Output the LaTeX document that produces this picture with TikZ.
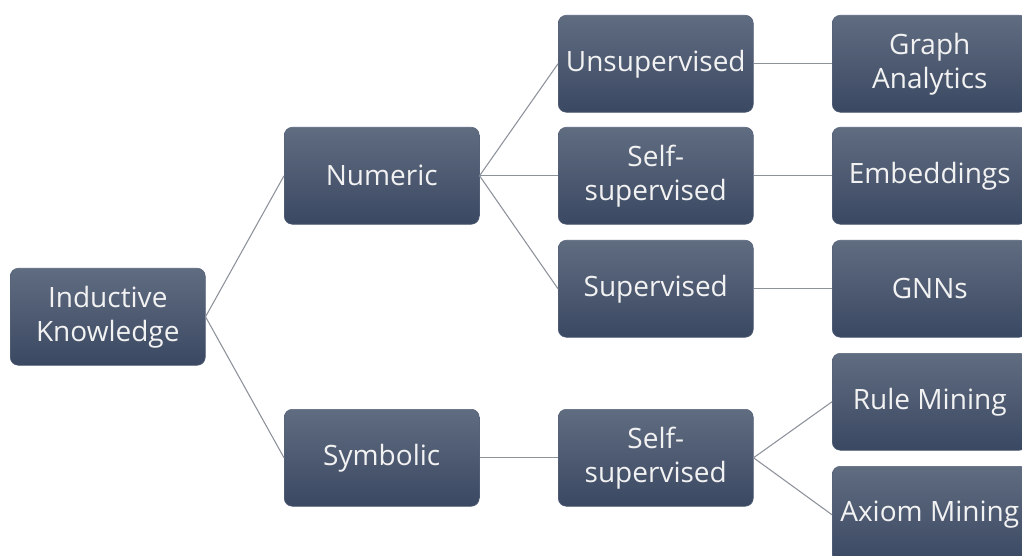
\documentclass[tikz,border=0pt]{standalone}
\usepackage{fontspec}
\setmainfont{Open Sans}
\begin{document}
\begin{tikzpicture}[x=0.75pt,y=-0.75pt,
  box/.style={rounded corners=6pt, minimum width=146.25pt, minimum height=72.75pt,
    inner sep=0pt, top color=boxtop, bottom color=boxbot, draw=boxedge, line width=0.4pt,
    text=boxtext, align=center, font=\fontsize{21}{25.5}\selectfont, anchor=north west},
  link/.style={draw=linkgray, line width=0.8pt}]
\definecolor{boxtop}{HTML}{606C80}
\definecolor{boxbot}{HTML}{3A4862}
\definecolor{boxedge}{HTML}{56627A}
\definecolor{boxtext}{HTML}{F2F2F2}
\definecolor{linkgray}{HTML}{8C919A}
\useasboundingbox (0,0) rectangle (1022,556);
\clip (0,0) rectangle (1022,556);
% root
\node[box] (ind) at (10,268) {Inductive\\Knowledge};
% second level
\node[box] (num) at (284,127) {Numeric};
\node[box] (sym) at (284,409) {Symbolic};
% third level
\node[box] (uns) at (558,15) {Unsupervised};
\node[box] (ssn) at (558,127) {Self-\\supervised};
\node[box] (sup) at (558,240) {Supervised};
\node[box] (sss) at (558,409) {Self-\\supervised};
% leaves
\node[box] (gra) at (832,15) {Graph\\Analytics};
\node[box] (emb) at (832,127) {Embeddings};
\node[box] (gnn) at (832,240) {GNNs};
\node[box] (rul) at (832,353) {Rule Mining};
\node[box] (axi) at (832,466) {Axiom Mining};
% connectors
\draw[link] (ind.east) -- (num.west);
\draw[link] (ind.east) -- (sym.west);
\draw[link] (num.east) -- (uns.west);
\draw[link] (num.east) -- (ssn.west);
\draw[link] (num.east) -- (sup.west);
\draw[link] (sym.east) -- (sss.west);
\draw[link] (uns.east) -- (gra.west);
\draw[link] (ssn.east) -- (emb.west);
\draw[link] (sup.east) -- (gnn.west);
\draw[link] (sss.east) -- (rul.west);
\draw[link] (sss.east) -- (axi.west);
\end{tikzpicture}
\end{document}
